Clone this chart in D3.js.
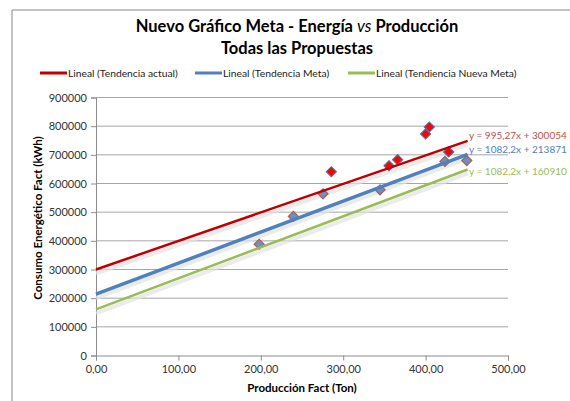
<!DOCTYPE html>
<meta charset="utf-8">
<style>
body { margin: 0; background: #fff; }
text { font-family: Lato, "Open Sans", sans-serif; fill: #333; }
.title { font-size: 16.5px; font-weight: bold; fill: #000; }
.axis-title { font-size: 11.5px; font-weight: bold; fill: #000; }
.tick text { font-size: 11px; fill: #333; }
.legend text { font-size: 10.3px; fill: #222; }
</style>
<svg width="570" height="401"></svg>
<script src="https://d3js.org/d3.v7.min.js"></script>
<script>

// Red diamonds: actual data (Ton, kWh)
var actualX = [285.6, 355.6, 366, 400, 404.5, 428];
var actualY = [641000, 662000, 683000, 773000, 797000, 710000];

// Blue diamonds: meta data
var metaX = [198, 239.5, 275.5, 344.7, 423.5, 450];
var metaY = [388000, 485000, 564000, 578000, 677000, 680000];

// trend lines: y = a*x + b
var trendNames = ["Lineal (Tendencia actual)", "Lineal (Tendencia Meta)", "Lineal (Tendiencia Nueva Meta)"];
var trendSlopes = [995.27, 1082.2, 1082.2];
var trendIntercepts = [300054, 213871, 160910];
var trendLabels = ["y = 995,27x + 300054", "y = 1082,2x + 213871", "y = 1082,2x + 160910"];
var trendColors = ["#c00000", "#4f81bd", "#9bbb59"];
var labelColors = ["#c0504d", "#4f81bd", "#9bbb59"];
var trendEnd = 451;

var xTicks = [0, 100, 200, 300, 400, 500];
var yTicks = [0, 100000, 200000, 300000, 400000, 500000, 600000, 700000, 800000, 900000];

var svg = d3.select("svg");

// chart frame
svg.append("path")
  .attr("d", "M12,401V10H570")
  .attr("fill", "none")
  .attr("stroke", "#8a8a8a");

var x = d3.scaleLinear().domain([0, 500]).range([96, 508]);
var y = d3.scaleLinear().domain([0, 900000]).range([355.5, 97.5]);

// grid
svg.append("g")
  .selectAll("line")
  .data(yTicks.slice(1))
  .join("line")
  .attr("x1", x(0)).attr("x2", x(500))
  .attr("y1", d => y(d)).attr("y2", d => y(d))
  .attr("stroke", "#a6a6a6");

var yAxis = svg.append("g")
  .attr("transform", "translate(" + x(0) + ",0)")
  .call(d3.axisLeft(y).tickValues(yTicks).tickFormat(d3.format("d")).tickSize(5).tickPadding(4));
var xAxis = svg.append("g")
  .attr("transform", "translate(0," + y(0) + ")")
  .call(d3.axisBottom(x).tickValues(xTicks).tickFormat(d => d.toFixed(2).replace(".", ",")).tickSize(5).tickPadding(5));
[xAxis, yAxis].forEach(function(a) {
  a.select(".domain").attr("stroke", "#8c8c8c");
  a.selectAll(".tick line").attr("stroke", "#8c8c8c");
  a.selectAll(".tick text").attr("font-family", null).attr("font-size", null);
});

// trend line shadows
var trends = trendNames.map((n, i) => ({ i: i, a: trendSlopes[i], b: trendIntercepts[i] }));
svg.append("g")
  .selectAll("line")
  .data(trends)
  .join("line")
  .attr("x1", x(0)).attr("x2", x(trendEnd))
  .attr("y1", d => y(d.b) + 4).attr("y2", d => y(d.a * trendEnd + d.b) + 4)
  .attr("stroke", "#e3e3e3")
  .attr("stroke-width", 4)
  .attr("opacity", 0.7);

// markers: squares turned 45 degrees
var marker = d3.symbol().type(d3.symbolSquare).size(50);
var metaPts = metaX.map((v, i) => [v, metaY[i]]);
var actualPts = actualX.map((v, i) => [v, actualY[i]]);

svg.append("g")
  .selectAll("path")
  .data(metaPts)
  .join("path")
  .attr("d", marker)
  .attr("transform", d => "translate(" + x(d[0]) + "," + y(d[1]) + ") rotate(45)")
  .attr("fill", "#6f8fbf")
  .attr("stroke", "#b05a5a")
  .attr("stroke-width", 1.2);

svg.append("g")
  .selectAll("path")
  .data(actualPts)
  .join("path")
  .attr("d", marker)
  .attr("transform", d => "translate(" + x(d[0]) + "," + y(d[1]) + ") rotate(45)")
  .attr("fill", "#ff0000")
  .attr("stroke", "#4f6fa0")
  .attr("stroke-width", 1.2);

// trend lines
svg.append("g")
  .selectAll("line")
  .data(trends)
  .join("line")
  .attr("x1", x(0)).attr("x2", x(trendEnd))
  .attr("y1", d => y(d.b)).attr("y2", d => y(d.a * trendEnd + d.b))
  .attr("stroke", d => trendColors[d.i])
  .attr("stroke-width", d => d.i == 1 ? 3.5 : 2.5);

// equation labels
var labelY = [139, 153, 175];
svg.append("g")
  .selectAll("text")
  .data(trendLabels)
  .join("text")
  .attr("x", 469)
  .attr("y", (d, i) => labelY[i])
  .attr("font-size", 10)
  .style("fill", (d, i) => labelColors[i])
  .text(d => d);

// titles
var t1 = svg.append("text").attr("class", "title").attr("x", 297).attr("y", 32).attr("text-anchor", "middle");
t1.append("tspan").text("Nuevo Gráfico Meta - Energía ");
t1.append("tspan").attr("font-style", "italic").attr("font-weight", "normal").text("vs");
t1.append("tspan").text(" Producción");
svg.append("text").attr("class", "title").attr("x", 297).attr("y", 54).attr("text-anchor", "middle")
  .text("Todas las Propuestas");

// legend
var legendX = [40, 195, 348];
var lg = svg.append("g").attr("class", "legend")
  .selectAll("g")
  .data(trendNames)
  .join("g")
  .attr("transform", (d, i) => "translate(" + legendX[i] + ",73)");
lg.append("line")
  .attr("x1", 0).attr("x2", 27)
  .attr("stroke", (d, i) => trendColors[i])
  .attr("stroke-width", 3);
lg.append("text")
  .attr("x", 28).attr("y", 4)
  .text(d => d);

// axis titles
svg.append("text").attr("class", "axis-title")
  .attr("x", 302).attr("y", 392)
  .attr("text-anchor", "middle")
  .text("Producción Fact (Ton)");
svg.append("text").attr("class", "axis-title")
  .attr("transform", "translate(42,218) rotate(-90)")
  .attr("text-anchor", "middle")
  .text("Consumo Energético Fact (kWh)");

</script>
